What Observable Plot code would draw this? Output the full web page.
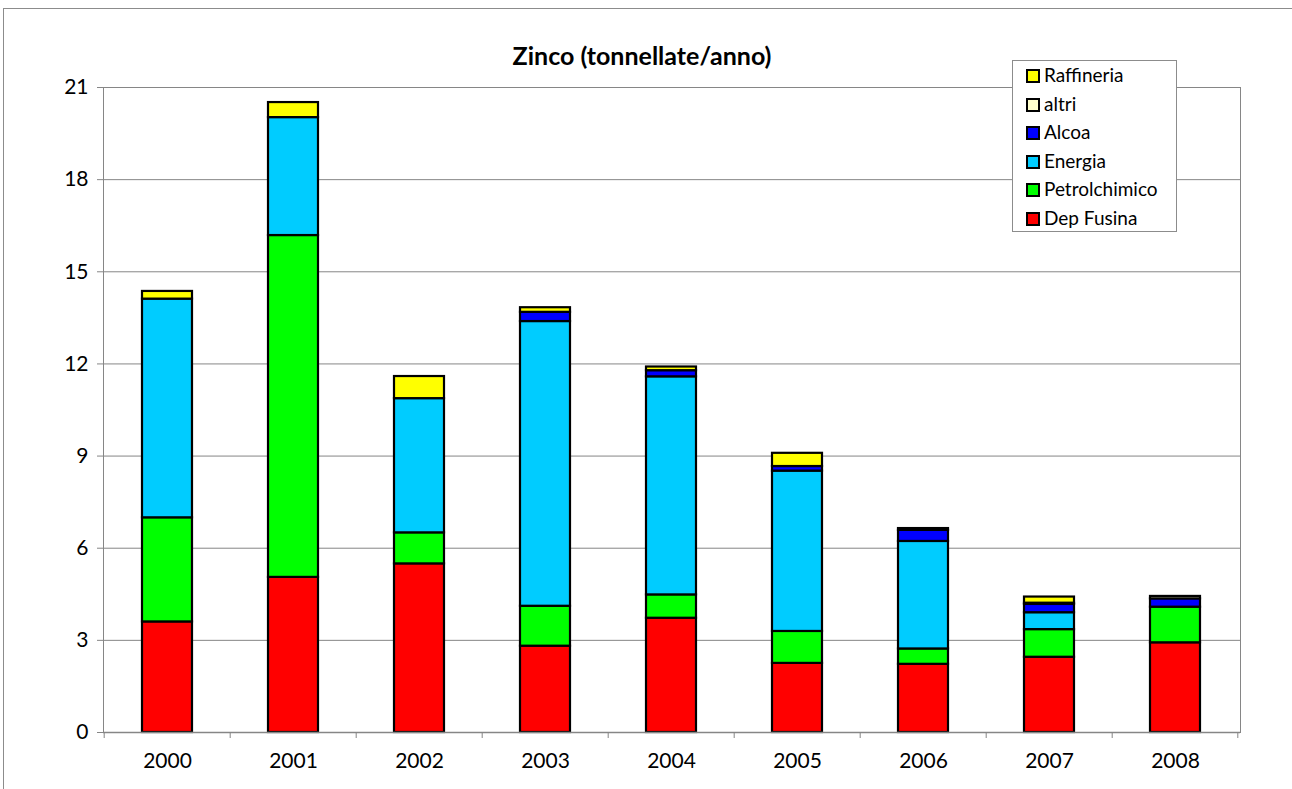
<!DOCTYPE html>
<html>
<head>
<meta charset="utf-8">
<script src="https://cdn.jsdelivr.net/npm/d3@7"></script>
<script src="https://cdn.jsdelivr.net/npm/@observablehq/plot@0.6"></script>
<style>
  html, body { margin: 0; padding: 0; background: #fff; }
  #wrap { position: relative; width: 1292px; height: 789px; overflow: hidden; font-family: Lato, "Open Sans", sans-serif; }
  #outer { position: absolute; left: 3px; top: 8px; width: 1300px; height: 800px; border: 1px solid #8c8c8c; box-sizing: border-box; }
  #title { position: absolute; left: 0; top: 40px; width: 1284px; text-align: center; font-weight: bold; font-size: 25px; line-height: 30px; color: #000; }
  #chart { position: absolute; left: 0; top: 0; }
  #legend { position: absolute; left: 1012px; top: 60px; width: 165px; height: 172px; border: 1px solid #8c8c8c; background: #fff; box-sizing: border-box; }
  .item { position: absolute; left: 13px; font-size: 19px; line-height: 22px; color: #000; white-space: nowrap; }
  .sw { display: inline-block; width: 10px; height: 10px; border: 2px solid #000; margin-right: 4px; vertical-align: -1px; }
</style>
</head>
<body>
<div id="wrap">
  <div id="outer"></div>
  <div id="chart"></div>
  <div id="title">Zinco (tonnellate/anno)</div>
  <div id="legend"></div>
</div>
<script>
const years = ["2000","2001","2002","2003","2004","2005","2006","2007","2008"];
const seriesNames = ["Dep Fusina","Petrolchimico","Energia","Alcoa","altri","Raffineria"];
const seriesColors = ["#FF0000","#00FF00","#00CCFF","#0000FF","#FFFFCC","#FFFF00"];
const depFusina     = [3.60, 5.05, 5.49, 2.81, 3.72, 2.25, 2.22, 2.45, 2.92];
const petrolchimico = [3.39, 11.13, 1.01, 1.30, 0.76, 1.04, 0.50, 0.90, 1.16];
const energia       = [7.12, 3.84, 4.37, 9.27, 7.10, 5.22, 3.50, 0.55, 0.00];
const alcoa         = [0.00, 0.00, 0.00, 0.30, 0.20, 0.15, 0.36, 0.27, 0.27];
const altri         = [0.00, 0.00, 0.00, 0.00, 0.00, 0.00, 0.06, 0.04, 0.08];
const raffineria    = [0.25, 0.49, 0.72, 0.15, 0.12, 0.43, 0.00, 0.20, 0.00];
const yTicks = [0, 3, 6, 9, 12, 15, 18, 21];

const seriesValues = [depFusina, petrolchimico, energia, alcoa, altri, raffineria];
const data = [];
years.forEach((yr, i) => {
  seriesNames.forEach((s, j) => {
    const v = seriesValues[j][i];
    if (v > 0) data.push({year: yr, series: s, value: v});
  });
});

const chart = Plot.plot({
  width: 1292,
  height: 789,
  marginLeft: 103,
  marginRight: 52,
  marginTop: 87,
  marginBottom: 57,
  style: {fontFamily: "Lato, 'Open Sans', sans-serif", fontSize: "21px", color: "#000", background: "transparent"},
  x: {domain: years, paddingInner: 0.6, paddingOuter: 0.3, label: null},
  y: {domain: [0, 21], label: null},
  color: {domain: seriesNames, range: seriesColors},
  marks: [
    Plot.gridY(yTicks, {stroke: "#868686", strokeOpacity: 1, strokeWidth: 1}),
    Plot.frame({stroke: "#868686", strokeWidth: 1}),
    Plot.axisY(yTicks, {tickSize: 6, tickPadding: 9, stroke: "#868686", fontSize: 21, fill: "#000"}),
    Plot.axisX({tickSize: 0, tickPadding: 21, fontSize: 21, fill: "#000"}),
    Plot.barY(data, {x: "year", y: "value", fill: "series", order: seriesNames, stroke: "#000", strokeWidth: 2.2}),
    Plot.ruleY([0], {stroke: "#868686", strokeWidth: 1.5})
  ]
});
document.getElementById("chart").appendChild(chart);

// category boundary tick marks below the x axis
const xs = chart.scale("x");
const ys = chart.scale("y");
const y0 = ys.apply(0);
const half = xs.step * xs.paddingInner / 2;
const bounds = years.map(yr => xs.apply(yr) - half);
bounds.push(xs.apply(years[years.length - 1]) + xs.bandwidth + half);
const svg = d3.select(chart);
svg.append("g").selectAll("line").data(bounds).join("line")
  .attr("x1", d => d).attr("x2", d => d)
  .attr("y1", y0).attr("y2", y0 + 6)
  .attr("stroke", "#868686").attr("stroke-width", 1);

// legend (top entry = last series)
const legend = document.getElementById("legend");
const order = seriesNames.map((s, i) => i).reverse();
order.forEach((i, k) => {
  const div = document.createElement("div");
  div.className = "item";
  div.style.top = (3 + k * 28.6) + "px";
  const sw = document.createElement("span");
  sw.className = "sw";
  sw.style.background = seriesColors[i];
  div.appendChild(sw);
  div.appendChild(document.createTextNode(seriesNames[i]));
  legend.appendChild(div);
});
</script>
</body>
</html>
